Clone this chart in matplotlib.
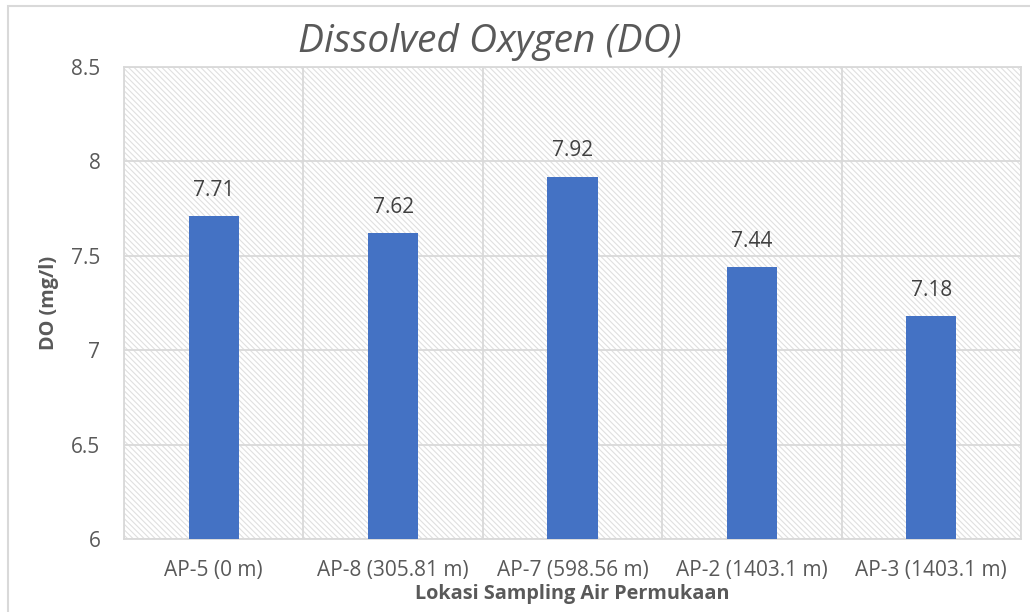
import matplotlib
matplotlib.use("Agg")
import matplotlib.pyplot as plt
from matplotlib.patches import Rectangle

categories = ["AP-5 (0 m)", "AP-8 (305.81 m)", "AP-7 (598.56 m)", "AP-2 (1403.1 m)", "AP-3 (1403.1 m)"]
values = [7.71, 7.62, 7.92, 7.44, 7.18]
yticks = [6, 6.5, 7, 7.5, 8, 8.5]
ytick_labels = ["6", "6.5", "7", "7.5", "8", "8.5"]

title = "Dissolved Oxygen (DO)"
xlabel = "Lokasi Sampling Air Permukaan"
ylabel = "DO (mg/l)"

plt.rcParams['font.family'] = ['Open Sans', 'DejaVu Sans']
plt.rcParams['hatch.linewidth'] = 0.8
plt.rcParams['hatch.color'] = '#e0e0e0'

txt = '#595959'
grid = '#d9d9d9'
bar_color = '#4472c4'

fig = plt.figure(figsize=(10.30, 6.12), dpi=100)
ax = fig.add_axes([124/1030, 1-539/612, (1021-124)/1030, (539-67)/612])

# figure border
fig.patches.append(Rectangle((8/1030, -0.05), 1.2, (612-6)/612 + 0.05, transform=fig.transFigure,
                             fill=False, edgecolor=grid, linewidth=1.5))

ax.patch.set_facecolor('white')
ax.patch.set_hatch('\\' * 6)
ax.patch.set_edgecolor('#e0e0e0')
ax.patch.set_linewidth(0)

x = list(range(len(categories)))
bars = ax.bar(x, values, width=0.28, color=bar_color, zorder=3)

ax.set_xlim(-0.5, len(categories) - 0.5)
ax.set_ylim(6, 8.5)
ax.set_yticks(yticks)
ax.set_yticklabels(ytick_labels)
ax.set_xticks(x)
ax.set_xticklabels(categories)

# gridlines
for yv in yticks:
    ax.axhline(yv, color=grid, linewidth=1.3, zorder=1)
for b in range(len(categories) + 1):
    ax.axvline(b - 0.5, color=grid, linewidth=1.3, zorder=1)

for s in ax.spines.values():
    s.set_color(grid)
    s.set_linewidth(1.3)

ax.tick_params(axis='both', length=0, colors=txt, labelsize=15)
ax.tick_params(axis='y', pad=17)
ax.tick_params(axis='x', pad=15)

for xi, v in zip(x, values):
    ax.annotate(f"{v:g}", (xi, v), xytext=(0, 11), textcoords='offset points',
                ha='center', va='bottom', fontsize=15, color='#404040')

ax.set_xlabel(xlabel, fontsize=14.3, fontweight='bold', color=txt, labelpad=2)
ax.set_ylabel(ylabel, fontsize=14.3, fontweight='bold', color=txt, labelpad=9)

fig.text(490/1030, 1-42/612, title, ha='center', va='center', fontsize=28,
         style='italic', color=txt)

fig.savefig("out.png", dpi=100)
